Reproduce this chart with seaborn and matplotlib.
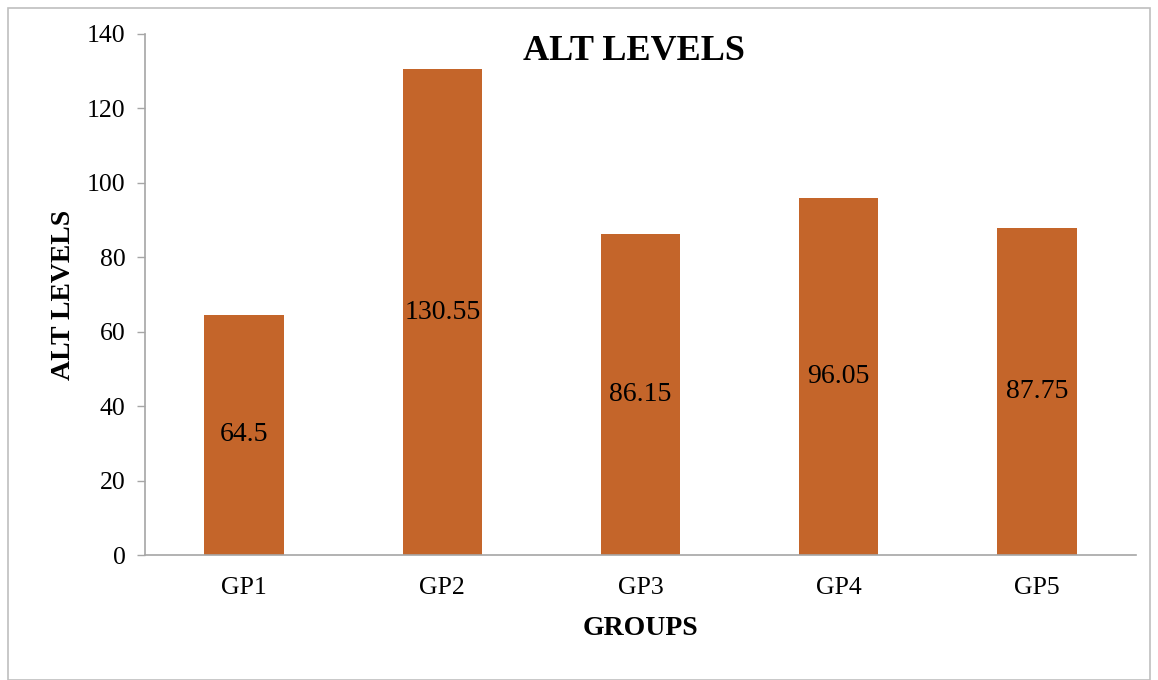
import matplotlib
matplotlib.use("Agg")
import matplotlib.pyplot as plt
from matplotlib.patches import Rectangle
import seaborn as sns
import pandas as pd

groups = ["GP1", "GP2", "GP3", "GP4", "GP5"]
alt_levels = [64.5, 130.55, 86.15, 96.05, 87.75]
value_labels = ["64.5", "130.55", "86.15", "96.05", "87.75"]
y_ticks = [0, 20, 40, 60, 80, 100, 120, 140]

sns.set_style("white")
plt.rcParams["font.family"] = ["Liberation Serif", "DejaVu Serif"]
plt.rcParams["text.color"] = "black"
plt.rcParams["axes.labelcolor"] = "black"
plt.rcParams["xtick.labelcolor"] = "black"
plt.rcParams["ytick.labelcolor"] = "black"

df = pd.DataFrame({"group": groups, "alt": alt_levels})

fig = plt.figure(figsize=(11.58, 6.8), dpi=100)
ax = fig.add_axes([145 / 1158, 1 - 555 / 680, (1136 - 145) / 1158, (555 - 34) / 680])

bar_color = "#C4652A"
sns.barplot(data=df, x="group", y="alt", color=bar_color, width=0.4,
            saturation=1, ax=ax, edgecolor="none")

ax.set_xlim(-0.5, len(groups) - 0.5)
ax.set_ylim(0, 140)
ax.set_yticks(y_ticks)
ax.set_yticklabels([str(t) for t in y_ticks], fontsize=18.5, color="black")

# category labels centered, tick marks on the category boundaries
ax.set_xticks(range(len(groups)))
ax.set_xticklabels(groups, fontsize=18.5, color="black")
ax.set_xticks([i - 0.5 for i in range(len(groups) + 1)], minor=True)
ax.tick_params(axis="x", which="major", length=0, pad=16)
ax.tick_params(axis="x", which="minor", length=5, width=1, color="#A6A6A6", direction="out")
ax.tick_params(axis="y", which="major", length=6, width=1, color="#A6A6A6", direction="out", pad=8, left=True)

for side in ["top", "right"]:
    ax.spines[side].set_visible(False)
for side in ["left", "bottom"]:
    ax.spines[side].set_color("#A6A6A6")
    ax.spines[side].set_linewidth(1.2)

# value labels at the middle of each bar
for i, (v, lab) in enumerate(zip(alt_levels, value_labels)):
    ax.text(i, v / 2, lab, ha="center", va="center", fontsize=20, color="black")

ax.set_xlabel("GROUPS", fontsize=20, fontweight="bold", labelpad=12, color="black")
ax.set_ylabel("ALT LEVELS", fontsize=20, fontweight="bold", labelpad=8, color="black")

fig.text(634 / 1158, 1 - 51 / 680, "ALT LEVELS", ha="center", va="center",
         fontsize=26, fontweight="bold", color="black")

# outer chart frame
fig.patches.append(Rectangle((8 / 1158, 0.5 / 680), 1142 / 1158, (680 - 8) / 680,
                             transform=fig.transFigure, fill=False,
                             edgecolor="#BFBFBF", linewidth=1.2))

fig.savefig("out.png", dpi=100)
